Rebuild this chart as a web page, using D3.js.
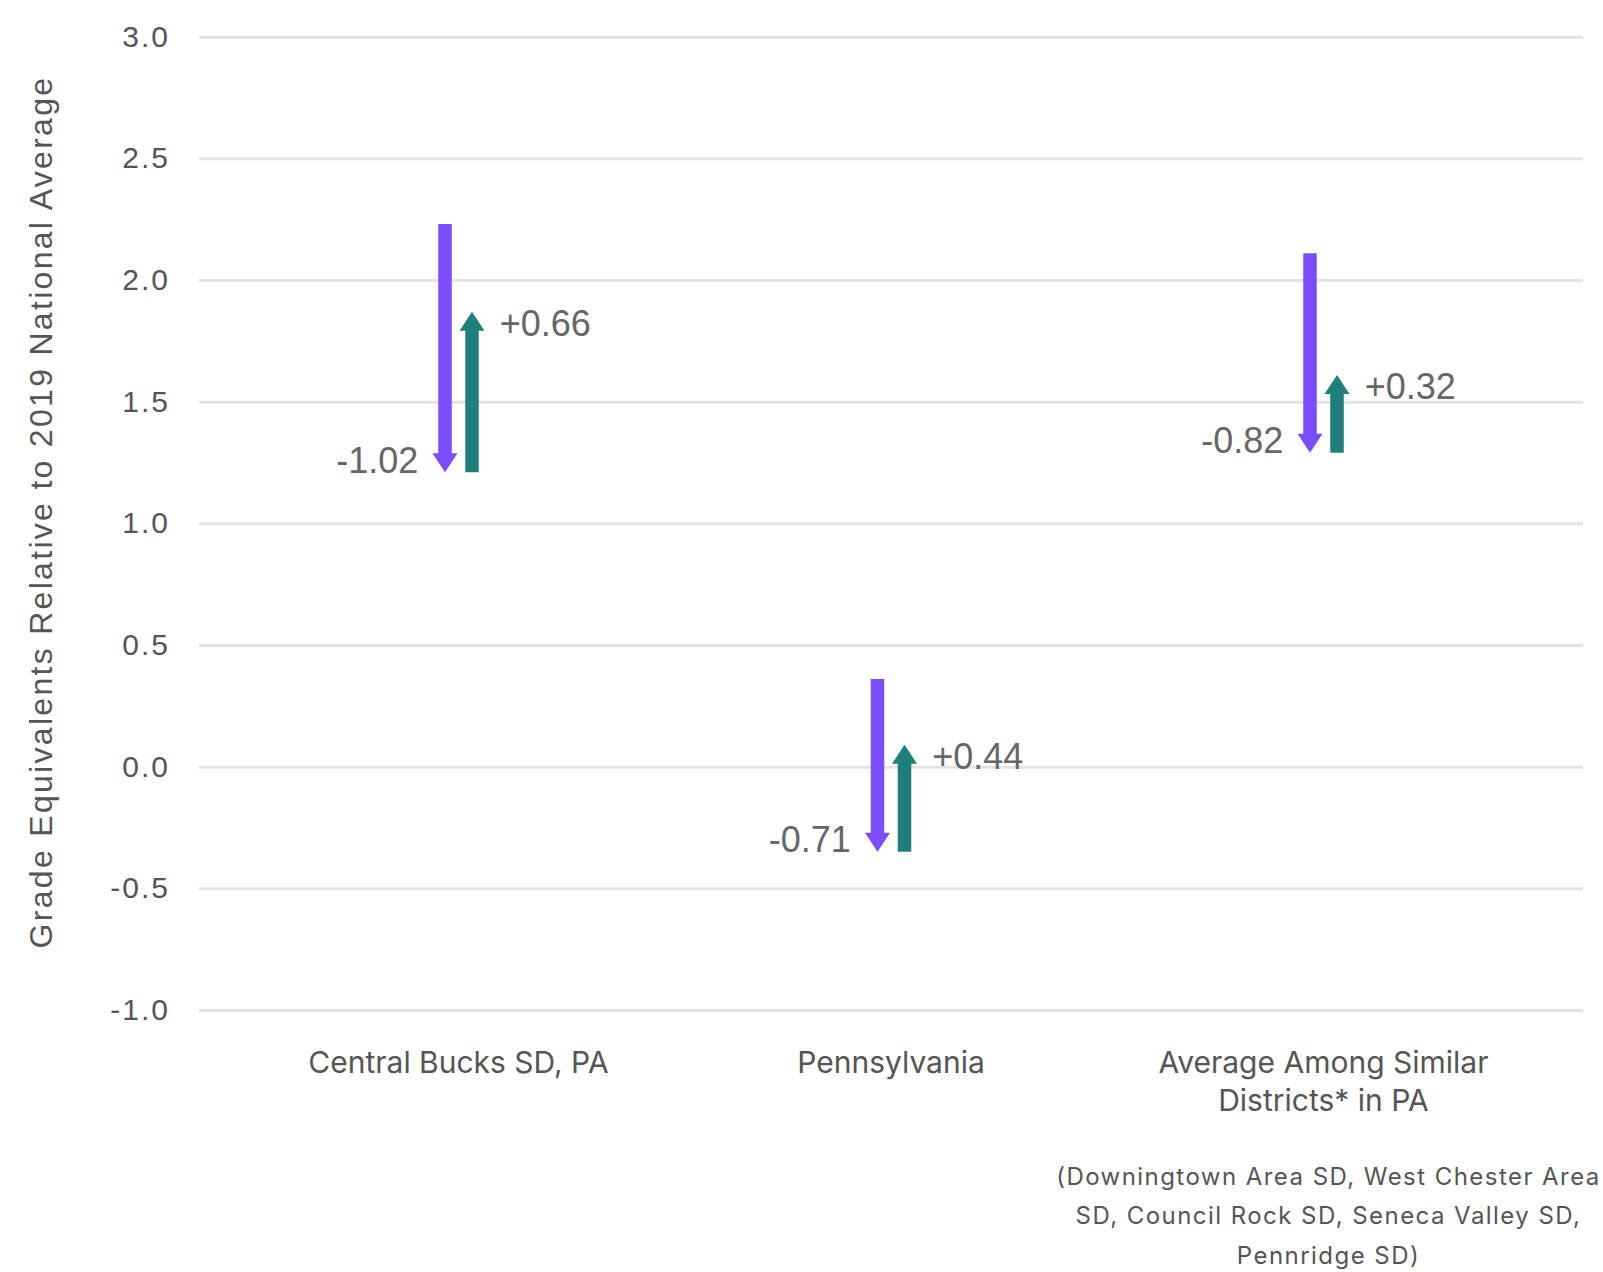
<!DOCTYPE html>
<html>
<head>
<meta charset="utf-8">
<script src="https://cdn.jsdelivr.net/npm/d3@7"></script>
<style>
  body { margin: 0; background: #fff; }
  svg { display: block; }
</style>
</head>
<body>
<div id="chart"></div>
<script>
(function() {

    // data
    var categories = ["Central Bucks SD, PA", "Pennsylvania", "Average Among Similar Districts* in PA"];
    var categoryLines = [["Central Bucks SD, PA"], ["Pennsylvania"], ["Average Among Similar", "Districts* in PA"]];
    var startValues = [2.23, 0.36, 2.11];   // level before the drop
    var dropValues = [-1.02, -0.71, -0.82];
    var gainValues = [0.66, 0.44, 0.32];
    var yTicks = [-1.0, -0.5, 0.0, 0.5, 1.0, 1.5, 2.0, 2.5, 3.0];
    var footnoteLines = ["(Downingtown Area SD, West Chester Area", "SD, Council Rock SD, Seneca Valley SD,", "Pennridge SD)"];
    var yTitle = "Grade Equivalents Relative to 2019 National Average";

    var width = 1603, height = 1272;
    var left = 199, right = 1583, top = 36.7, bottom = 1010;

    var purple = "#7c4dff", teal = "#1e7f7b";

    // plain hyphen for negatives, like the original
    var fmt = d3.formatLocale({ decimal: ".", thousands: ",", grouping: [3], currency: ["$", ""], minus: "-" });

    var svg = d3.select("#chart").append("svg")
        .attr("width", width)
        .attr("height", height);

    var y = d3.scaleLinear().domain([-1, 3]).range([bottom, top]);
    var x = d3.scalePoint().domain(categories).range([left, right]).padding(0.6);

    /* gridlines + tick labels */
    var yAxis = d3.axisLeft(y)
        .tickValues(yTicks)
        .tickFormat(fmt.format(".1f"))
        .tickSize(-(right - left))
        .tickPadding(29);

    var gy = svg.append("g")
        .attr("transform", "translate(" + left + ",0)")
        .call(yAxis);
    gy.select(".domain").remove();
    gy.selectAll(".tick line")
        .attr("stroke", "#e3e3e3")
        .attr("stroke-width", 3);
    gy.selectAll(".tick text")
        .attr("fill", "#555")
        .style("font-family", "'Liberation Sans', Arial, sans-serif")
        .style("font-size", "30px")
        .style("letter-spacing", "2px");

    svg.append("text")
        .attr("transform", "translate(41,512) rotate(-90)")
        .attr("text-anchor", "middle")
        .attr("dominant-baseline", "central")
        .attr("fill", "#555")
        .style("font-family", "'Liberation Sans', Arial, sans-serif")
        .style("font-size", "32px")
        .style("letter-spacing", "2.3px")
        .text(yTitle);

    /* arrows */
    var shaft = 13.5, headW = 25, headL = 19, offset = 13.5;

    var rows = categories.map(function(c, i) {
        return {
            cat: c,
            start: startValues[i],
            mid: startValues[i] + dropValues[i],
            end: startValues[i] + dropValues[i] + gainValues[i],
            drop: dropValues[i],
            gain: gainValues[i]
        };
    });

    // vertical arrow polygon from y0 (flat end) to y1 (tip)
    function arrowPath(cx, y0, y1) {
        var dir = y1 > y0 ? 1 : -1;
        var yb = y1 - dir * headL;
        return "M" + (cx - shaft / 2) + "," + y0 +
            "L" + (cx + shaft / 2) + "," + y0 +
            "L" + (cx + shaft / 2) + "," + yb +
            "L" + (cx + headW / 2) + "," + yb +
            "L" + cx + "," + y1 +
            "L" + (cx - headW / 2) + "," + yb +
            "L" + (cx - shaft / 2) + "," + yb + "Z";
    }

    var g = svg.append("g");

    g.selectAll("path.drop")
        .data(rows)
        .enter().append("path")
        .attr("class", "drop")
        .attr("fill", purple)
        .attr("d", function(d) { return arrowPath(x(d.cat) - offset, y(d.start), y(d.mid)); });

    g.selectAll("path.gain")
        .data(rows)
        .enter().append("path")
        .attr("class", "gain")
        .attr("fill", teal)
        .attr("d", function(d) { return arrowPath(x(d.cat) + offset, y(d.mid), y(d.end)); });

    var labelFont = "'Liberation Sans', Arial, sans-serif";

    g.selectAll("text.drop")
        .data(rows)
        .enter().append("text")
        .attr("class", "drop")
        .attr("x", function(d) { return x(d.cat) - offset - shaft / 2 - 20; })
        .attr("y", function(d) { return y(d.mid) - 12; })
        .attr("text-anchor", "end")
        .attr("dominant-baseline", "central")
        .attr("fill", "#666")
        .style("font-family", labelFont)
        .style("font-size", "36px")
        .text(function(d) { return fmt.format(".2f")(d.drop); });

    g.selectAll("text.gain")
        .data(rows)
        .enter().append("text")
        .attr("class", "gain")
        .attr("x", function(d) { return x(d.cat) + offset + shaft / 2 + 21; })
        .attr("y", function(d) { return y(d.end) + 12; })
        .attr("dominant-baseline", "central")
        .attr("fill", "#666")
        .style("font-family", labelFont)
        .style("font-size", "36px")
        .text(function(d) { return fmt.format("+.2f")(d.gain); });

    /* category labels */
    var catG = svg.selectAll("text.cat")
        .data(rows)
        .enter().append("text")
        .attr("class", "cat")
        .attr("text-anchor", "middle")
        .attr("fill", "#555")
        .style("font-family", "Inter, 'Noto Sans', sans-serif")
        .style("font-size", "30px");

    catG.selectAll("tspan")
        .data(function(d, i) { return categoryLines[i]; })
        .enter().append("tspan")
        .attr("x", function() { return x(d3.select(this.parentNode).datum().cat); })
        .attr("y", function(d, j) { return 1062 + j * 38; })
        .attr("dominant-baseline", "central")
        .text(function(d) { return d; });

    svg.append("text")
        .attr("text-anchor", "middle")
        .attr("fill", "#555")
        .style("font-family", "Inter, 'Noto Sans', sans-serif")
        .style("font-size", "24px")
        .style("letter-spacing", "1.45px")
        .selectAll("tspan")
        .data(footnoteLines)
        .enter().append("tspan")
        .attr("x", x(categories[2]) + 5)
        .attr("y", function(d, j) { return 1176 + j * 39.5; })
        .attr("dominant-baseline", "central")
        .text(function(d) { return d; });

})();
</script>
</body>
</html>
